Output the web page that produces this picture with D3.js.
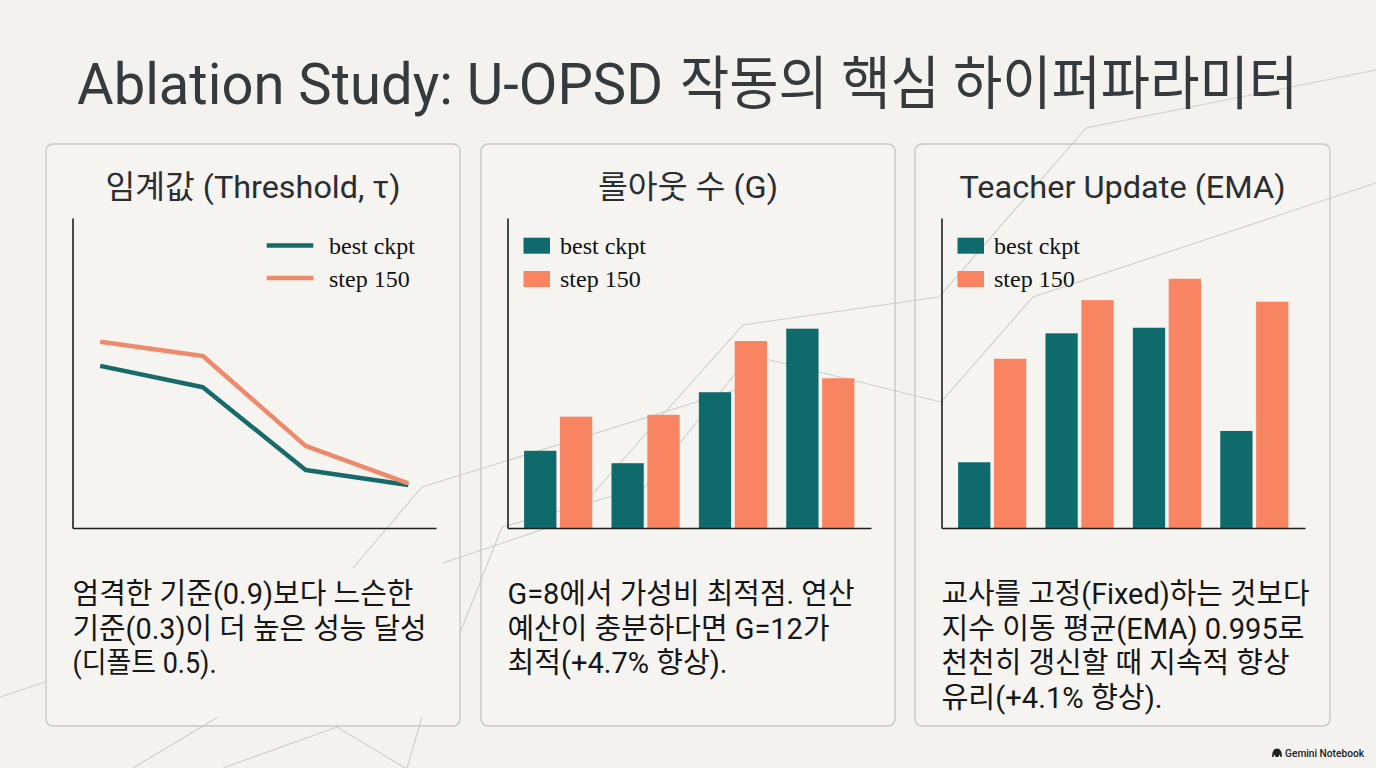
<!DOCTYPE html>
<html><head><meta charset="utf-8">
<script src="https://cdn.jsdelivr.net/npm/d3@7"></script>
<style>html,body{margin:0;padding:0;background:#f3f2ee;}svg{display:block;}</style>
</head><body>
<svg id="c" width="1376" height="768"></svg>
<script>
// ---------- data ----------
const seriesNames = ["best ckpt", "step 150"];
const thresholdCats = ["τ=0.3", "τ=0.5", "τ=0.7", "τ=0.9"];
const thresholdBest = [52.3, 45.4, 18.7, 13.9];
const thresholdStep = [60.1, 55.5, 26.5, 14.4];
const rolloutCats = ["G=2", "G=4", "G=8", "G=12"];
const rolloutBest = [24.9, 20.9, 43.8, 64.3];
const rolloutStep = [35.9, 36.5, 60.3, 48.3];
const emaCats = ["Fixed", "EMA 0.99", "EMA 0.995", "EMA 0.999"];
const emaBest = [21.2, 62.8, 64.6, 31.3];
const emaStep = [54.6, 73.5, 80.4, 73.0];
const titleLatin = "Ablation Study: U-OPSD";
const titleKorean = "작동의 핵심 하이퍼파라미터";
const panelTitles = ["임계값 (Threshold, τ)", "롤아웃 수 (G)", "Teacher Update (EMA)"];
const panelNotes = [
  ["엄격한 기준(0.9)보다 느슨한", "기준(0.3)이 더 높은 성능 달성", "(디폴트 0.5)."],
  ["G=8에서 가성비 최적점. 연산", "예산이 충분하다면 G=12가", "최적(+4.7% 향상)."],
  ["교사를 고정(Fixed)하는 것보다", "지수 이동 평균(EMA) 0.995로", "천천히 갱신할 때 지속적 향상", "유리(+4.1% 향상)."]
];
const watermark = "Gemini Notebook";

// ---------- layout / style ----------
const W = 1376, H = 768;
const C = { teal: "#0f6b6b", orange: "#f98462", tealLine: "#176a6a", orangeLine: "#ee8a6c",
  bg: "#f3f2ee", panel: "#f5f4f0", border: "#c8c8c5", decor: "#cdcdca", axis: "#1e1e1e" };
const panels = [{x: 46, w: 414}, {x: 481, w: 414}, {x: 915, w: 415}];
const panelTop = 144, panelBottom = 726;
const chartTop = 218, chartBottom = 528, chartW = 363.5, chartOffset = 26.5;
const titleLens = [295, 180, 326];
const noteLens = [[341, 354, 144], [347, 322, 220], [368, 363, 348, 221]];
const decor = [
  [[1376,70],[1086,128],[939,297],[743,325],[667,410],[590,497],[560,528]],
  [[1376,183],[1033,297],[941,402],[750,355],[645,487],[502,527],[460,633]],
  [[748,386],[422,487],[353,568]],
  [[443,563],[556,525]],
  [[0,697],[45,682]],
  [[422,717],[407,768]],
  [[218,717],[133,768]],
  [[223,768],[337,727],[405,768]]
];

const svg = d3.select("#c");
svg.append("rect").attr("width", W).attr("height", H).attr("fill", C.bg);

// panel fills
panels.forEach(p => svg.append("rect").attr("x", p.x).attr("y", panelTop).attr("width", p.w)
  .attr("height", panelBottom - panelTop).attr("rx", 7).attr("fill", C.panel));

// decorative network lines
const lineGen = d3.line();
svg.append("g").selectAll("path").data(decor).join("path")
  .attr("d", d => lineGen(d)).attr("fill", "none").attr("stroke", C.decor).attr("stroke-width", 1.1);

// panel borders
panels.forEach(p => svg.append("rect").attr("x", p.x).attr("y", panelTop).attr("width", p.w)
  .attr("height", panelBottom - panelTop).attr("rx", 7).attr("fill", "none")
  .attr("stroke", C.border).attr("stroke-width", 1.4));

// main title
const tt = svg.append("text").attr("y", 104).attr("font-family", "Roboto, 'Noto Sans CJK KR', sans-serif")
  .attr("font-size", 58).attr("fill", "#353a3d");
tt.append("tspan").attr("x", 77).attr("textLength", 586).attr("lengthAdjust", "spacingAndGlyphs").text(titleLatin);
tt.append("tspan").attr("x", 680).attr("textLength", 618).attr("lengthAdjust", "spacingAndGlyphs").text(titleKorean);

const y = d3.scaleLinear().domain([0, 100]).range([chartBottom, chartTop]);

panels.forEach((p, i) => {
  const ax = p.x + chartOffset;
  const g = svg.append("g");
  // title
  g.append("text").attr("x", p.x + p.w / 2).attr("y", 198).attr("text-anchor", "middle")
    .attr("font-family", "Roboto, 'Noto Sans CJK KR', sans-serif").attr("font-size", 32)
    .attr("fill", "#2a2e30").attr("textLength", titleLens[i]).attr("lengthAdjust", "spacingAndGlyphs")
    .text(panelTitles[i]);
  // notes
  panelNotes[i].forEach((line, k) => {
    g.append("text").attr("x", ax).attr("y", 604 + k * 34.5)
      .attr("font-family", "Roboto, 'Noto Sans CJK KR', sans-serif").attr("font-size", 29)
      .attr("fill", "#161616").attr("textLength", noteLens[i][k]).attr("lengthAdjust", "spacingAndGlyphs")
      .text(line);
  });

  const cats = [thresholdCats, rolloutCats, emaCats][i];
  const best = [thresholdBest, rolloutBest, emaBest][i];
  const step = [thresholdStep, rolloutStep, emaStep][i];
  const rows = cats.map((c, j) => ({cat: c, v: [best[j], step[j]]}));

  if (i === 0) {
    const x = d3.scalePoint().domain(cats).range([ax, ax + chartW]).padding(0.27);
    const lg = d3.line().x(d => x(d.cat)).y(d => y(d.val));
    [best, step].forEach((s, si) => {
      g.append("path").datum(cats.map((c, j) => ({cat: c, val: s[j]})))
        .attr("d", lg).attr("fill", "none").attr("stroke", si === 0 ? C.tealLine : C.orangeLine)
        .attr("stroke-width", 4.5).attr("stroke-linejoin", "round");
    });
    // legend
    seriesNames.forEach((n, si) => {
      const ly = 245.5 + si * 32.5;
      g.append("line").attr("x1", p.x + 220.7).attr("x2", p.x + 267.3).attr("y1", ly).attr("y2", ly)
        .attr("stroke", si === 0 ? C.tealLine : C.orangeLine).attr("stroke-width", 4.5);
      g.append("text").attr("x", p.x + 283).attr("y", 254 + si * 32.5)
        .attr("font-family", "'Liberation Serif', 'Times New Roman', serif").attr("font-size", 24)
        .attr("fill", "#111").text(n);
    });
    drawAxes(g, x, ax);
  } else {
    const x0 = d3.scaleBand().domain(cats).range([ax, ax + chartW]).paddingInner(0.22).paddingOuter(0.19);
    const x1 = d3.scaleBand().domain(seriesNames).range([0, x0.bandwidth()]).paddingInner(0.1).paddingOuter(0);
    g.append("g").selectAll("g").data(rows).join("g")
      .attr("transform", d => `translate(${x0(d.cat)},0)`)
      .selectAll("rect").data(d => d.v.map((v, si) => ({s: seriesNames[si], v, si}))).join("rect")
      .attr("x", d => x1(d.s)).attr("width", x1.bandwidth())
      .attr("y", d => y(d.v)).attr("height", d => y(0) - y(d.v))
      .attr("fill", d => d.si === 0 ? C.teal : C.orange);
    seriesNames.forEach((n, si) => {
      g.append("rect").attr("x", ax + 16).attr("y", 237.7 + si * 33.3).attr("width", 26.5).attr("height", 16)
        .attr("fill", si === 0 ? C.teal : C.orange);
      g.append("text").attr("x", ax + 52.5).attr("y", 254 + si * 32.5)
        .attr("font-family", "'Liberation Serif', 'Times New Roman', serif").attr("font-size", 24)
        .attr("fill", "#111").text(n);
    });
    drawAxes(g, x0, ax);
  }
});

function drawAxes(g, x, ax) {
  const xa = g.append("g").attr("transform", `translate(0,${chartBottom})`)
    .call(d3.axisBottom(x).tickValues([]).tickSizeOuter(0));
  const ya = g.append("g").attr("transform", `translate(${ax},0)`)
    .call(d3.axisLeft(y).tickValues([]).tickSizeOuter(0));
  [xa, ya].forEach(a => a.select(".domain").attr("stroke", C.axis).attr("stroke-width", 1.6));
}

// watermark
svg.append("path").attr("d", "M1272,757 Q1272,748.5 1277,748.5 Q1282,748.5 1282,757 L1280.6,757 L1279.6,754.6 L1278.3,757 L1275.7,757 L1274.4,754.6 L1273.4,757 Z")
  .attr("fill", "#222");
svg.append("text").attr("x", 1285).attr("y", 756.5).attr("font-family", "Roboto, Inter, sans-serif")
  .attr("font-size", 11).attr("font-weight", 500).attr("fill", "#222")
  .attr("textLength", 79).attr("lengthAdjust", "spacingAndGlyphs").text(watermark);
</script>
</body></html>
